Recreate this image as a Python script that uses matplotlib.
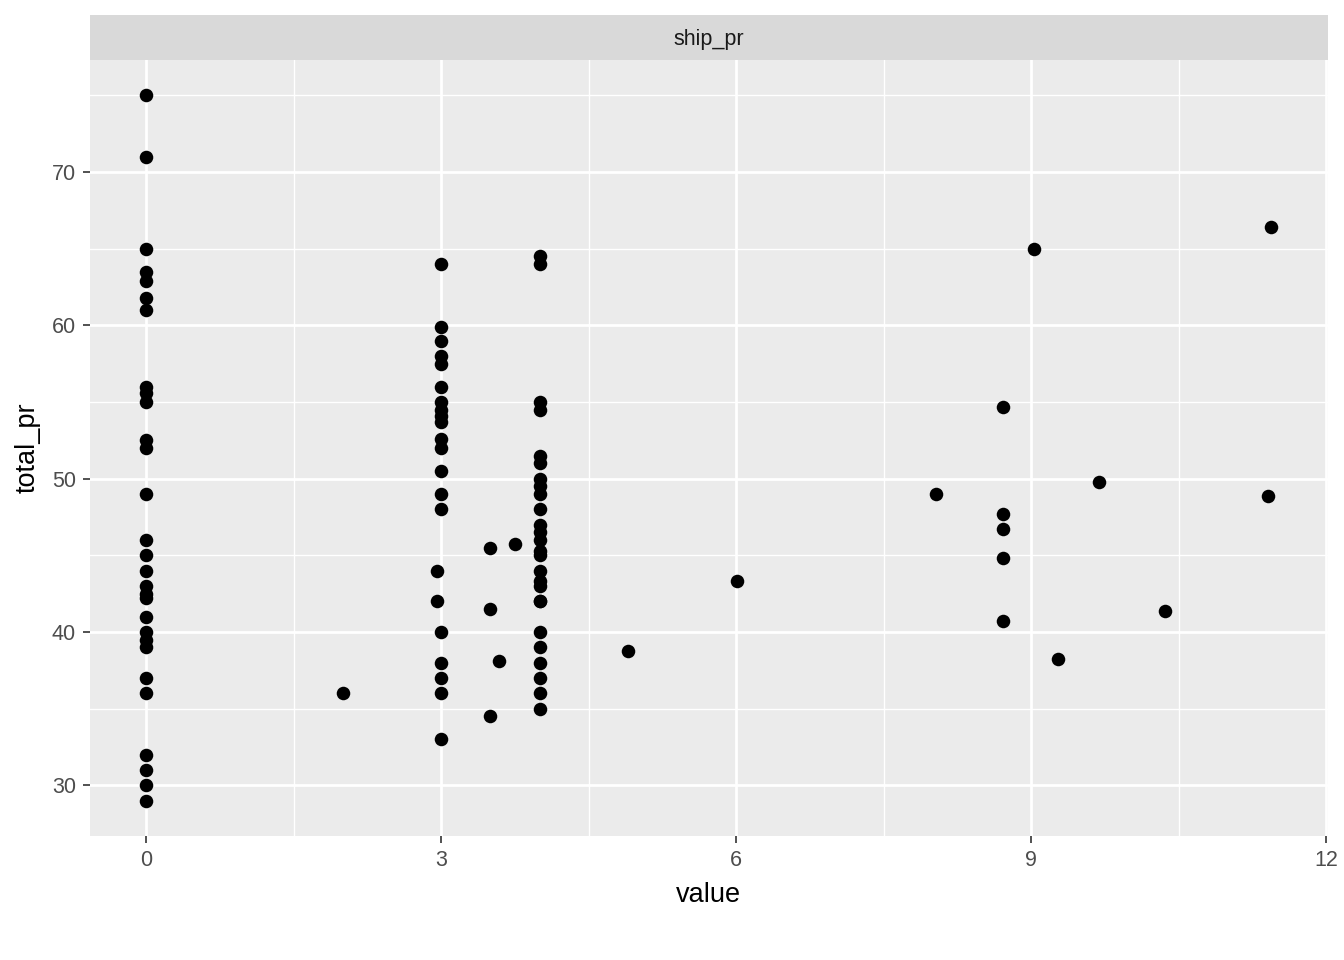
import matplotlib.pyplot as plt
from matplotlib.ticker import MultipleLocator

plt.rcParams['font.family'] = ['Liberation Sans', 'DejaVu Sans']

# points, grouped by column
y_at_0 = [75, 71, 65, 63.5, 62.9, 61.75, 61, 56, 55.6, 55, 52.5, 52, 49, 46, 45, 44,
          43, 42.5, 42.2, 41, 40, 39.5, 39, 37, 36, 32, 31, 30, 29]
y_at_3 = [64, 59.9, 59, 58, 57.5, 56, 55, 54.5, 54.1, 53.7, 52.6, 52, 50.5, 49, 48,
          40, 38, 37, 36, 33]
y_at_4 = [64.5, 64, 55, 54.5, 51.5, 51, 50, 49.5, 49, 48, 47, 46.5, 46, 45.3, 45,
          44, 43.3, 43, 42, 42, 40, 39, 38, 37, 36, 35]
other_x = [2.96, 2.96, 3.5, 3.75, 3.5, 3.59, 3.5, 2.0, 4.9, 6.01,
           11.44, 9.03, 8.71, 8.03, 9.69, 11.41, 8.71, 8.71, 8.71, 10.36, 8.71, 9.27]
other_y = [44, 42, 45.5, 45.75, 41.5, 38.1, 34.5, 36, 38.75, 43.35,
           66.44, 65, 54.7, 49, 49.77, 48.9, 47.7, 46.7, 44.8, 41.35, 40.7, 38.25]

value = [0] * len(y_at_0) + [3] * len(y_at_3) + [4] * len(y_at_4) + other_x
total_pr = y_at_0 + y_at_3 + y_at_4 + other_y

fig = plt.figure(figsize=(13.44, 9.6), dpi=100)
ax = fig.add_axes([90 / 1344, 124 / 960, 1237.5 / 1344, 776 / 960])
ax.set_facecolor('#EBEBEB')

ax.scatter(value, total_pr, s=95, color='black', linewidths=0, zorder=3)

xmin, xmax = min(value), max(value)
ymin, ymax = min(total_pr), max(total_pr)
dx = (xmax - xmin) * 0.05
dy = (ymax - ymin) * 0.05
ax.set_xlim(xmin - dx, xmax + dx)
ax.set_ylim(ymin - dy, ymax + dy)

ax.xaxis.set_major_locator(MultipleLocator(3))
ax.xaxis.set_minor_locator(MultipleLocator(1.5))
ax.yaxis.set_major_locator(MultipleLocator(10))
ax.yaxis.set_minor_locator(MultipleLocator(5))
ax.grid(which='major', color='white', linewidth=2.0)
ax.grid(which='minor', color='white', linewidth=1.0)
ax.set_axisbelow(True)
for s in ax.spines.values():
    s.set_visible(False)

ax.tick_params(which='major', length=5, width=1.2, color='#333333',
               labelsize=15.5, labelcolor='#4D4D4D', pad=5)
ax.tick_params(which='minor', length=0)

ax.set_xlabel('value', fontsize=19.5, color='black', labelpad=8)
ax.set_ylabel('total_pr', fontsize=19.5, color='black', labelpad=8)

# facet strip
strip = fig.add_axes([90 / 1344, 900 / 960, 1237.5 / 1344, 45 / 960])
strip.set_facecolor('#D9D9D9')
strip.set_xticks([])
strip.set_yticks([])
for s in strip.spines.values():
    s.set_visible(False)
strip.text(0.5, 0.45, 'ship_pr', ha='center', va='center', fontsize=15.5, color='#1A1A1A',
           transform=strip.transAxes)

fig.savefig('out.png', dpi=100, facecolor='white')
